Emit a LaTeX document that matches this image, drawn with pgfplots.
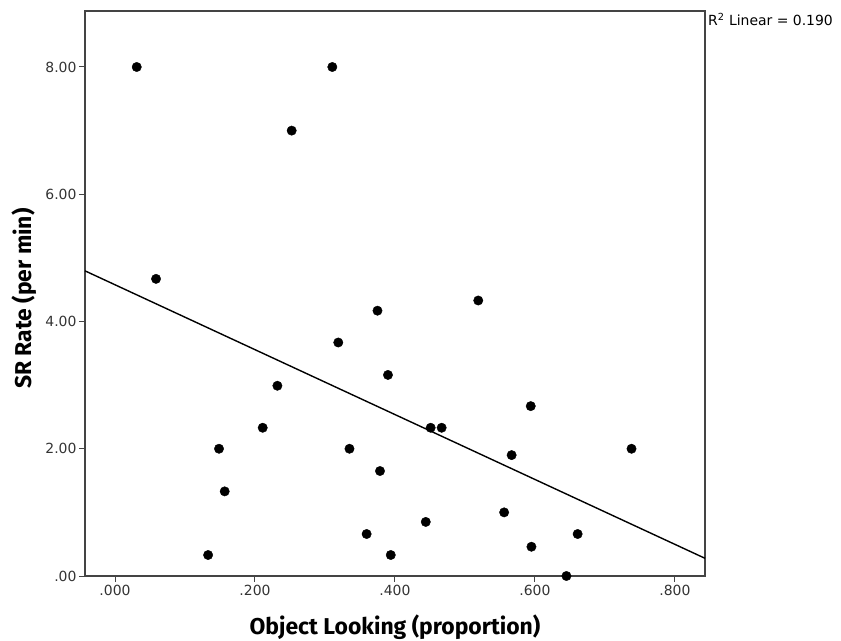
\documentclass[border=0pt]{standalone}
\usepackage{fontspec}
\setmainfont{DejaVu Sans}
\newfontfamily\labelfont{Fira Sans}
\usepackage{pgfplots}
\pgfplotsset{compat=1.18}
\definecolor{axisgray}{HTML}{444444}
\definecolor{ticktext}{HTML}{333333}
\begin{document}
\begin{tikzpicture}
\useasboundingbox (-85bp,-65bp) rectangle (756bp,576bp);
\begin{axis}[
  scale only axis, width=620bp, height=565bp,
  at={(0,0)}, anchor=south west,
  xmin=-0.0429, xmax=0.843, ymin=0, ymax=8.88,
  axis line style={axisgray, line width=1.3bp},
  xtick={0,0.2,0.4,0.6,0.8}, xticklabels={.000,.200,.400,.600,.800},
  ytick={0,2,4,6,8}, yticklabels={.00,2.00,4.00,6.00,8.00},
  tick align=outside, major tick length=6bp,
  tick style={axisgray, line width=1bp},
  xtick pos=bottom, ytick pos=left,
  ticklabel style={font=\fontsize{14}{16}\selectfont, text=ticktext},
  yticklabel style={xshift=1bp},
  /pgf/number format/assume math mode=true,
  xlabel={Object Looking (proportion)}, ylabel={SR Rate (per min)},
  every axis x label/.style={at={(axis description cs:0.5,-0.0903)}, anchor=center,
    font=\labelfont\bfseries\fontsize{23}{26}\selectfont},
  every axis y label/.style={at={(axis description cs:-0.098,0.491)}, rotate=90, anchor=center,
    font=\labelfont\bfseries\fontsize{23}{26}\selectfont},
  clip=false,
]
\addplot[only marks, mark=*, mark size=4.7bp, black] table {
x y
0.031 8.00
0.3105 8.00
0.2524 7.00
0.0586 4.67
0.375 4.17
0.319 3.67
0.390 3.16
0.232 2.99
0.211 2.33
0.1486 2.00
0.335 2.00
0.3786 1.65
0.1567 1.33
0.3595 0.66
0.133 0.33
0.394 0.33
0.519 4.33
0.594 2.67
0.451 2.33
0.4667 2.33
0.5667 1.90
0.738 2.00
0.556 1.00
0.444 0.85
0.661 0.66
0.595 0.46
0.645 0.00
};
\addplot[black, line width=1.4bp] coordinates {(-0.0429,4.796) (0.843,0.278)};
\node[anchor=north west, inner sep=0pt, font=\fontsize{14}{16}\selectfont, text=black]
  at (rel axis cs:1,1) [xshift=3bp, yshift=-2bp] {R\textsuperscript{2} Linear = 0.190};
\end{axis}
\end{tikzpicture}
\end{document}
